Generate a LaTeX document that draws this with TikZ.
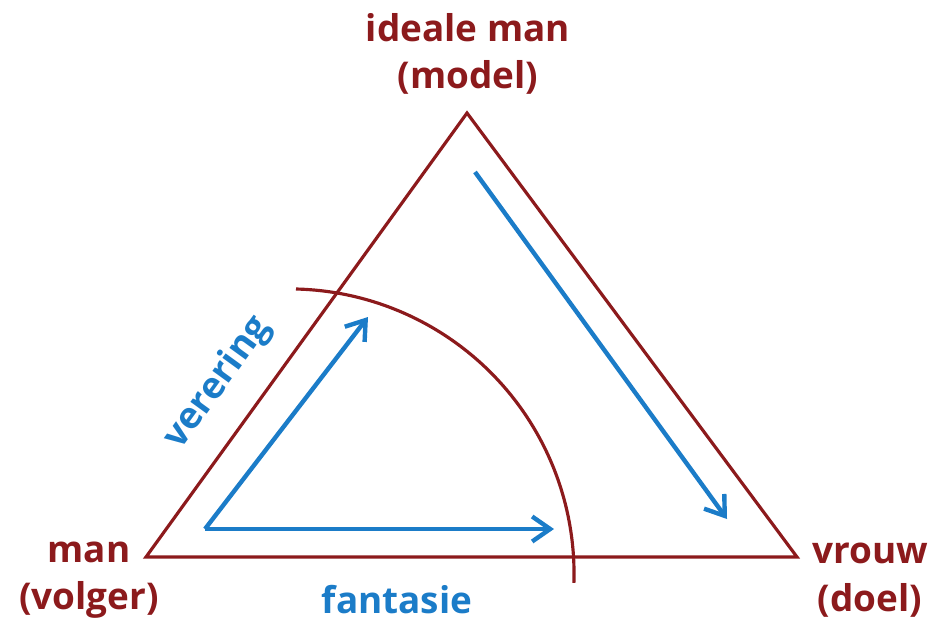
\documentclass[tikz,border=0pt]{standalone}
\usepackage{fontspec}
\setmainfont{Open Sans}
\usetikzlibrary{arrows.meta, positioning}
\definecolor{triRed}{HTML}{8C1A1C}
\definecolor{flowBlue}{HTML}{1B7CC8}
\tikzset{
  triline/.style={draw=triRed, line width=1.8pt, line join=miter},
  arrowB/.style={-{Straight Barb[length=3.6mm, width=5mm]}, flowBlue, line width=2.5pt},
  lblRed/.style={text=triRed, align=center, font=\bfseries\fontsize{21}{27}\selectfont,
                 inner sep=0pt},
  lblBlue/.style={text=flowBlue, font=\bfseries\fontsize{21}{27}\selectfont, inner sep=0pt},
}
\begin{document}
\begin{tikzpicture}[x=0.02cm, y=-0.02cm]
  \useasboundingbox (0,0) rectangle (935,625);
  % corners of the triangle
  \coordinate (top) at (467,113);
  \coordinate (left) at (146,557);
  \coordinate (right) at (797,557);
  \draw[triline] (top) -- (left) -- (right) -- cycle;
  % arc round the lower left corner
  \coordinate (arcstart) at (296,289);
  \draw[triRed, line width=1.8pt] (arcstart) arc[start angle=-88.6, end angle=1.8, radius=285];
  % labels
  \node[lblRed] (ideal) at (468,54) {ideale man\\(model)};
  \node[lblRed] (man) at (89,580) {man\\(volger)};
  \node[lblRed] (vrouw) at (870,580) {vrouw\\(doel)};
  \node[lblBlue, rotate=54] (verering) at (218,383) {verering};
  \node[lblBlue] (fantasie) at (397,600) {fantasie};
  % arrows
  \coordinate (a0) at (205,529);
  \coordinate (a1) at (368,317);
  \coordinate (a2) at (554,529);
  \coordinate (b0) at (475,172);
  \coordinate (b1) at (727,519);
  \draw[arrowB] (a0) -- (a1);
  \draw[arrowB] (a0) -- (a2);
  \draw[arrowB] (b0) -- (b1);
\end{tikzpicture}
\end{document}
